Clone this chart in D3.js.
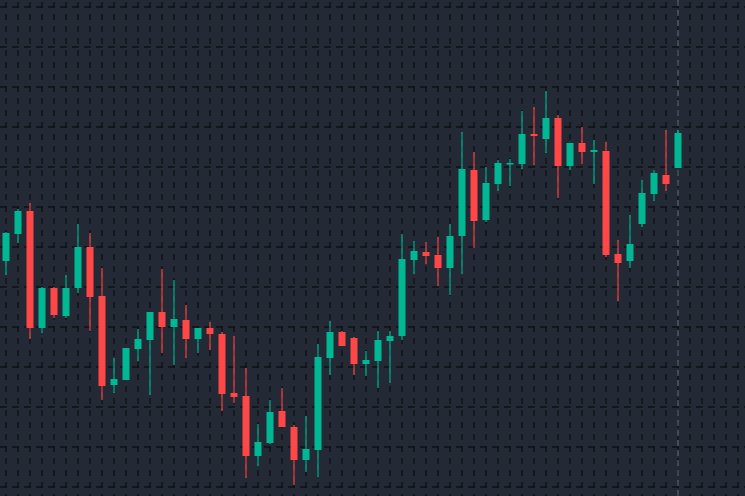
<!DOCTYPE html>
<html><head><meta charset="utf-8">
<script src="https://cdn.jsdelivr.net/npm/d3@7"></script>
<style>html,body{margin:0;padding:0;background:#242a35;overflow:hidden}</style>
</head><body><svg id="c" width="745" height="496"></svg>
<script>
const opens =[239,266,289,172,212,184,212,253,204,115,120,151,160,188,173,180,161,172,166,107,104,44,57,89,73,40,50,142,168,162,136,139,159,164,240,248,245,232,264,330,280,316,336,336,366,361,382,334,357,348,349,246,239,276,306,325,332];
const highs =[268,291,297,213,213,225,276,267,232,142,152,171,188,231,220,195,172,178,168,164,132,76,100,112,75,84,156,179,169,163,149,169,169,266,259,258,263,276,368,348,333,340,341,389,393,409,385,357,373,360,358,260,285,320,330,370,370];
const lows  =[225,257,161,167,182,182,207,169,100,107,120,139,105,147,135,142,147,150,89,97,22,34,56,73,15,28,23,125,154,125,124,112,117,160,226,236,214,205,226,252,278,309,314,331,335,347,302,330,336,316,243,199,232,273,299,309,332];
const closes=[267,289,172,212,185,212,253,203,114,121,152,161,188,173,181,161,172,166,106,103,44,58,88,73,40,51,143,168,154,136,140,160,164,241,249,244,232,264,331,279,317,337,337,366,364,382,334,357,348,350,245,237,256,307,327,316,367];
const priceGrid=[493,453,413,373,333,293,253,213,173,133,93,53,13];
const crossIndex=56;
const W=745,H=496,N=62;
const svg=d3.select("#c");
svg.append("rect").attr("width",W).attr("height",H).attr("fill","#242a35");
const x=d3.scaleLinear().domain([0,1]).range([6,18]);
const y=d3.scaleLinear().domain([4,500]).range([496,0]);
const g=svg.append("g");
g.selectAll("line.v").data(d3.range(N)).join("line").attr("x1",d=>x(d)).attr("x2",d=>x(d)).attr("y1",0).attr("y2",H)
 .attr("stroke","#0e1014").attr("stroke-width",1.3).attr("stroke-dasharray","6,6").attr("stroke-dashoffset",-2);
g.selectAll("line.h").data(priceGrid).join("line").attr("x1",0).attr("x2",W).attr("y1",d=>y(d)).attr("y2",d=>y(d))
 .attr("stroke","#0e1014").attr("stroke-width",1.3).attr("stroke-dasharray","7,5");
svg.append("line").attr("x1",x(crossIndex)).attr("x2",x(crossIndex)).attr("y1",0).attr("y2",H)
 .attr("stroke","#6b717c").attr("stroke-width",1).attr("stroke-dasharray","6,4");
const data=opens.map((o,i)=>({i,o,h:highs[i],l:lows[i],c:closes[i]}));
const col=d=>d.c>=d.o?"#00b894":"#ff4747";
const cg=svg.append("g");
cg.selectAll("line.w").data(data).join("line").attr("x1",d=>x(d.i)).attr("x2",d=>x(d.i))
 .attr("y1",d=>y(d.h)).attr("y2",d=>y(d.l)).attr("stroke",col).attr("stroke-width",1.2);
cg.selectAll("rect.b").data(data).join("rect").attr("x",d=>x(d.i)-3.5).attr("width",7)
 .attr("y",d=>y(Math.max(d.o,d.c))).attr("height",d=>Math.max(1.5,Math.abs(y(d.o)-y(d.c)))).attr("fill",col);
</script></body></html>
